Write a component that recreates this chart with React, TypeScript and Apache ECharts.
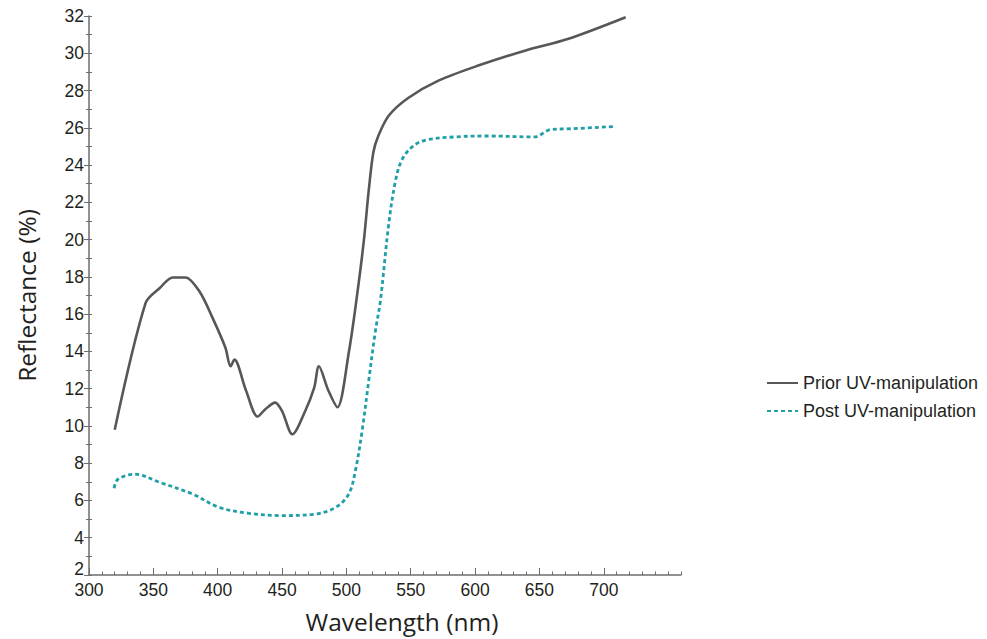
import React, { useEffect, useRef } from "react";
import * as echarts from "echarts";

const priorWavelength = [320, 344, 355, 365, 375, 386, 396, 406, 410, 413, 422, 431, 437, 444.6, 450, 458, 468, 475, 478.6, 486, 493, 502, 508, 513.5, 517.3, 521, 525, 533, 548, 571.5, 602.5, 638.6, 672, 717];
const priorReflectance = [9.8, 16.6, 17.4, 17.97, 17.97, 17.2, 15.8, 14.2, 13.2, 13.56, 11.9, 10.5, 10.9, 11.25, 10.8, 9.55, 10.8, 12.05, 13.2, 11.9, 11.0, 14.0, 16.86, 19.9, 22.6, 24.7, 25.6, 26.66, 27.6, 28.53, 29.34, 30.14, 30.76, 31.93];

const postWavelength = [319.5, 322.5, 335.5, 355, 380.6, 401, 424.5, 450, 476, 491.6, 501.8, 507, 512.2, 517.3, 522.5, 526.4, 532.8, 538, 543, 551, 561, 584, 610, 646, 659, 675, 708.5];
const postReflectance = [6.66, 7.14, 7.41, 6.97, 6.34, 5.63, 5.31, 5.19, 5.27, 5.63, 6.34, 7.6, 9.73, 12.4, 15.08, 16.7, 20.78, 23.1, 24.26, 24.97, 25.33, 25.51, 25.56, 25.51, 25.91, 25.95, 26.07];

const xTickLabels = [300, 350, 400, 450, 500, 550, 600, 650, 700];
const seriesNames = ["Prior UV-manipulation", "Post UV-manipulation"];

export default function App() {
  const ref = useRef<HTMLDivElement>(null);
  useEffect(() => {
    if (!ref.current) return;
    const chart = echarts.init(ref.current, null, { renderer: "svg" });
    const axisColor = "#6d6d6d";
    const labelStyle = { color: "#231f20", fontSize: 17.5, fontFamily: "Liberation Sans" };
    chart.setOption({
      animation: false,
      backgroundColor: "#ffffff",
      grid: { left: 89, right: 306, top: 16, bottom: 64, outerBoundsMode: "none" },
      legend: {
        orient: "vertical",
        left: 761,
        top: 369,
        itemWidth: 31,
        itemHeight: 14,
        itemGap: 10,
        data: seriesNames,
        itemStyle: { opacity: 0 },
        textStyle: { color: "#231f20", fontSize: 18, fontFamily: "Liberation Sans" },
      },
      xAxis: [
        {
          type: "value",
          min: 300,
          max: 760,
          interval: 50,
          name: "Wavelength (nm)",
          nameLocation: "middle",
          nameGap: 34,
          nameTextStyle: { fontSize: 24.5, fontFamily: "Open Sans", color: "#231f20", padding: [0, 0, 0, 34] },
          axisLine: { lineStyle: { color: axisColor, width: 1.5 } },
          axisTick: { inside: true, length: 7, lineStyle: { color: axisColor }, customValues: xTickLabels },
          axisLabel: { ...labelStyle, margin: 6, customValues: xTickLabels },
          splitLine: { show: false },
        },
        {
          type: "value",
          min: 300,
          max: 760,
          interval: 10,
          position: "bottom",
          axisLine: { show: false },
          axisTick: { inside: true, length: 3.5, lineStyle: { color: axisColor } },
          axisLabel: { show: false },
          splitLine: { show: false },
        },
      ],
      yAxis: [
        {
          type: "value",
          min: 2,
          max: 32,
          interval: 2,
          name: "Reflectance (%)",
          nameLocation: "middle",
          nameGap: 40,
          nameTextStyle: { fontSize: 24.5, fontFamily: "Open Sans", color: "#231f20", padding: [0, 0, 10, 0] },
          axisLine: { show: true, lineStyle: { color: axisColor, width: 1.5 } },
          axisTick: { show: true, length: 5, lineStyle: { color: axisColor } },
          minorTick: { show: true, splitNumber: 2, length: 3, lineStyle: { color: axisColor } },
          axisLabel: {
            ...labelStyle,
            margin: 5,
            formatter: (v: number) => (v === 2 ? "{lo|2}" : String(v)),
            rich: { lo: { ...labelStyle, padding: [0, 0, 12, 0] } },
          },
          splitLine: { show: false },
        },
        {
          type: "value",
          min: 2,
          max: 32,
          interval: 2,
          position: "left",
          axisLine: { show: false },
          axisTick: { show: true, inside: true, length: 3, lineStyle: { color: axisColor } },
          minorTick: { show: true, splitNumber: 2, length: 3, lineStyle: { color: axisColor } },
          axisLabel: { show: false },
          splitLine: { show: false },
        },
      ],
      series: [
        {
          name: seriesNames[0],
          type: "line",
          smooth: 0.3,
          symbol: "none",
          data: priorWavelength.map((w, i) => [w, priorReflectance[i]]),
          lineStyle: { color: "#575757", width: 2.6 },
          itemStyle: { color: "#575757" },
        },
        {
          name: seriesNames[1],
          type: "line",
          smooth: 0.35,
          symbol: "none",
          data: postWavelength.map((w, i) => [w, postReflectance[i]]),
          lineStyle: { color: "#1f9fa8", width: 2.8, type: [4, 3] },
          itemStyle: { color: "#1f9fa8" },
        },
      ],
    });
    return () => chart.dispose();
  }, []);
  return <div ref={ref} style={{ position: "fixed", left: 0, top: 0, width: 987, height: 639 }} />;
}
